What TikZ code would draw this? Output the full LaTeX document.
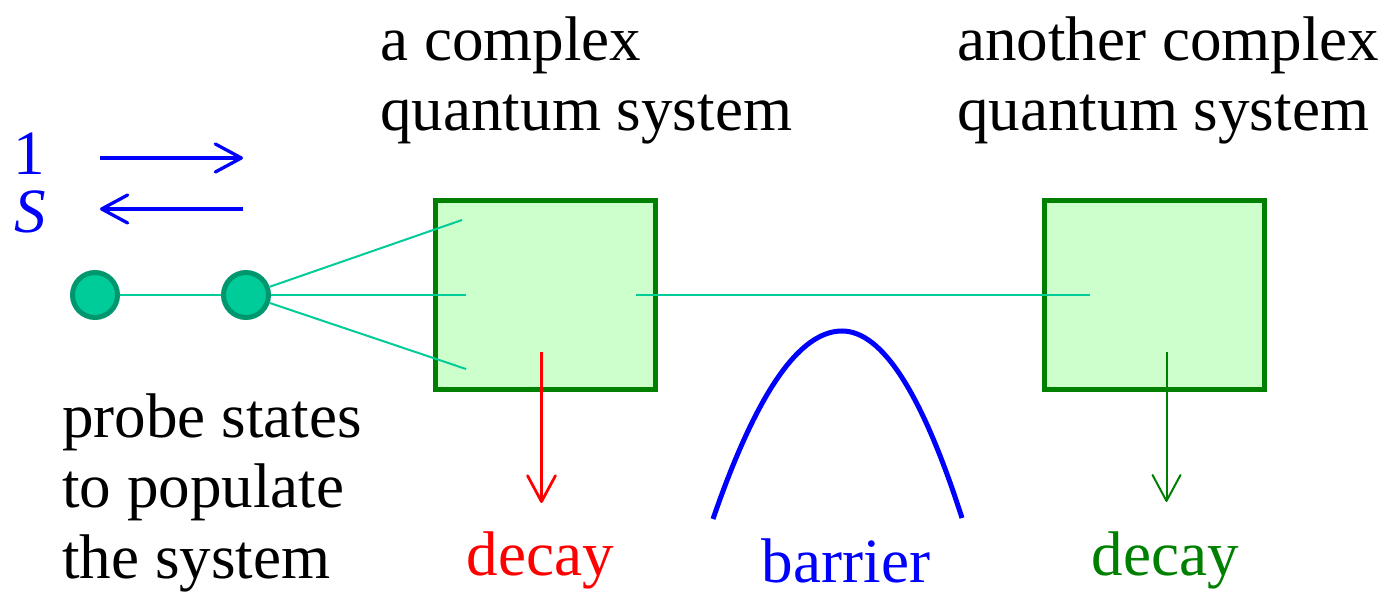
\documentclass[tikz,border=0pt]{standalone}
\usepackage{fontspec}
\setmainfont{Liberation Serif}
\usetikzlibrary{arrows.meta}

\definecolor{probeteal}{RGB}{0,204,153}
\definecolor{probeedge}{RGB}{0,150,110}
\definecolor{boxgreen}{RGB}{0,128,0}
\definecolor{boxfill}{RGB}{204,255,204}

\tikzset{
    state/.style={circle, draw=probeedge, fill=probeteal, line width=0.1cm, minimum size=0.9cm, inner sep=0pt},
    system/.style={draw=boxgreen, fill=boxfill, line width=0.1cm, minimum width=4.4cm, minimum height=3.78cm, inner sep=0pt},
    coupling/.style={probeteal, line width=0.04cm},
    barb/.style={-{Straight Barb[length=0.52cm, width=0.56cm, round]}},
    txt/.style={inner sep=0pt, align=left, font=\fontsize{35.9}{40}\selectfont},
}

\begin{document}
\begin{tikzpicture}[x=0.02cm, y=-0.02cm]
        \useasboundingbox (0,0) rectangle (1389,597);
        % the two systems
        \node[system] (sysA) at (545.5,295) {};
        \node[system] (sysB) at (1154.5,295) {};
        % probe states and their couplings
        \node[state] (p1) at (95,295) {};
        \node[state] (p2) at (246,295) {};
        \draw[coupling] (p1) -- (p2);
        \foreach \x/\y [count=\k] in {462/220, 466/295, 466/369} {
            \coordinate (in\k) at (\x,\y);
            \draw[coupling] (p2) -- (in\k);
        }
        \coordinate (outA) at (636,295);
        \coordinate (inB) at (1090,295);
        \draw[coupling] (outA) -- (inB);
        % decay channels
        \coordinate (dA) at (541.5,352);
        \coordinate (dAend) at (541.5,503);
        \coordinate (dB) at (1166.5,352);
        \coordinate (dBend) at (1166.5,502);
        \draw[red, line width=0.055cm, barb] (dA) -- (dAend);
        \draw[boxgreen, line width=0.04cm, barb] (dB) -- (dBend);
        % barrier
        \draw[blue, line width=0.1cm] (713,519) .. controls (756,394) and (799,331) .. (842,331)
            .. controls (882,331) and (922,393) .. (962,518);
        % flux in and out
        \coordinate (fwdL) at (100,158);
        \coordinate (fwdR) at (243,158);
        \coordinate (bckL) at (100,209);
        \coordinate (bckR) at (243,209);
        \draw[blue, line width=0.066cm, barb] (fwdL) -- (fwdR);
        \draw[blue, line width=0.066cm, barb] (bckR) -- (bckL);
        \node[txt, blue, anchor=base] (one) at (29,175) {1};
        \node[txt, blue, anchor=base] (smat) at (30,233) {\textit{S}};
        % labels
        \node[txt, anchor=base west] (labA) at (380,131) {a complex\\quantum system};
        \node[txt, anchor=base west] (labB) at (957,131) {another complex\\quantum system};
        \node[txt, anchor=base west] (labP) at (62,578) {probe states\\to populate\\the system};
        \node[txt, red, anchor=base] (decA) at (540,575) {decay};
        \node[txt, boxgreen, anchor=base] (decB) at (1165,575) {decay};
        \node[txt, blue, anchor=base] (bar) at (846,582) {barrier};
    \end{tikzpicture}
\end{document}
